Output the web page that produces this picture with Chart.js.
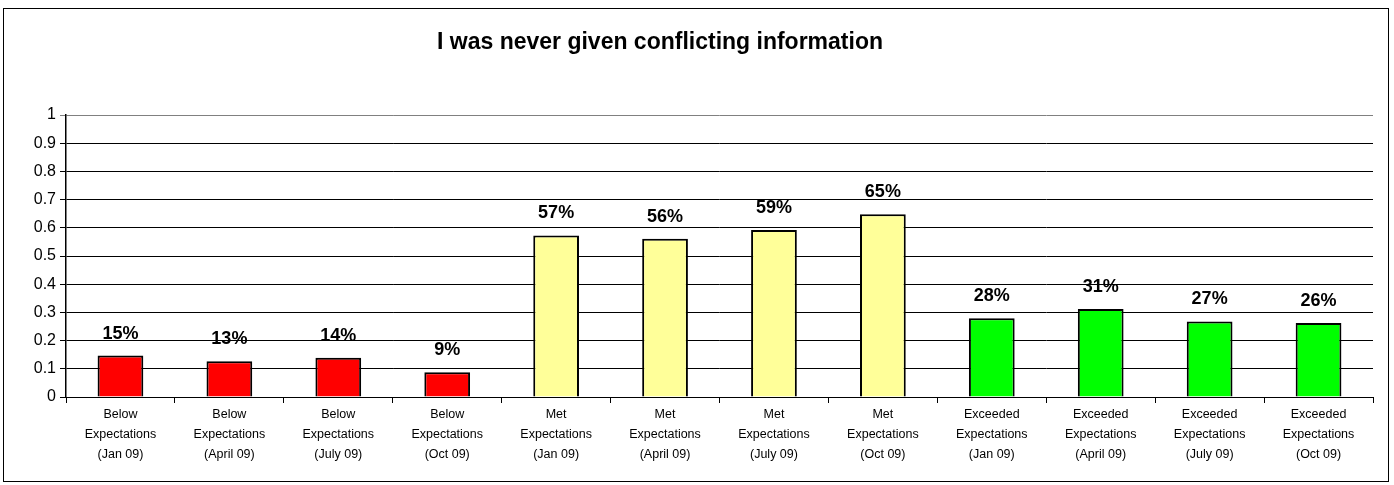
<!DOCTYPE html>
<html>
<head>
<meta charset="utf-8">
<script src="https://cdn.jsdelivr.net/npm/chart.js@4"></script>
<style>
  html, body { margin: 0; padding: 0; background: #fff; }
  #wrap { width: 1394px; height: 485px; }
</style>
</head>
<body>
<div id="wrap"><canvas id="myChart" width="1394" height="485"></canvas></div>
<script>
var chartTitle = "I was never given conflicting information";
var groups = ["Below", "Met", "Exceeded"];
var periods = ["(Jan 09)", "(April 09)", "(July 09)", "(Oct 09)"];
var values = [0.147, 0.127, 0.139, 0.088, 0.573, 0.561, 0.592, 0.648, 0.279, 0.312, 0.268, 0.262];
var groupColors = ["#FF0000", "#FFFF99", "#00FF00"];

var labels = [];
var barColors = [];
for (var g = 0; g < groups.length; g++) {
  for (var p = 0; p < periods.length; p++) {
    labels.push([groups[g], "Expectations", periods[p]]);
    barColors.push(groupColors[g]);
  }
}

// frame, title and the % labels over bars
var extras = {
  id: "extras",
  afterDraw: function(chart) {
    var c = chart.ctx;
    c.save();
    c.strokeStyle = "#000";
    c.lineWidth = 1;
    c.strokeRect(3.5, 8.5, 1385, 473);
    c.fillStyle = "#000";
    c.textAlign = "center";
    c.textBaseline = "middle";
    c.font = "bold 23px Arial, 'Liberation Sans', sans-serif";
    c.fillText(chartTitle, 660, 43);
    c.font = "bold 18px Arial, 'Liberation Sans', sans-serif";
    c.textBaseline = "alphabetic";
    var meta = chart.getDatasetMeta(0);
    meta.data.forEach(function(bar, i) {
      c.fillText(Math.round(values[i] * 100) + "%", bar.x, bar.y - 17);
    });
    c.restore();
  }
};

var myChart = new Chart(document.getElementById("myChart"), {
  type: "bar",
  data: {
    labels: labels,
    datasets: [{
      data: values,
      backgroundColor: barColors,
      borderColor: "#000",
      borderWidth: 2,
      barPercentage: 0.42,
      categoryPercentage: 1
    }]
  },
  options: {
    responsive: false,
    animation: false,
    layout: { padding: { left: 4, right: 21, top: 115, bottom: 0 } },
    plugins: {
      legend: { display: false },
      title: { display: false },
      tooltip: { enabled: false }
    },
    scales: {
      x: {
        grid: {
          offset: true,
          drawOnChartArea: false,
          drawTicks: true,
          tickLength: 6,
          color: "#000"
        },
        border: { color: "#000", width: 1 },
        ticks: {
          color: "#000",
          font: { family: "Arial, 'Liberation Sans', sans-serif", size: 12.5, lineHeight: 1.6 },
          maxRotation: 0,
          autoSkip: false,
          padding: 2
        },
        afterFit: function(scale) { scale.height = 88; }
      },
      y: {
        min: 0,
        max: 1,
        grid: {
          color: function(ctx) { return ctx.tick && ctx.tick.value === 1 ? "#808080" : "#000"; },
          lineWidth: 1,
          tickLength: 6
        },
        border: { color: "#000", width: 1.5 },
        ticks: {
          stepSize: 0.1,
          color: "#000",
          font: { family: "Arial, 'Liberation Sans', sans-serif", size: 16 },
          padding: 4,
          callback: function(v) { return String(+v.toFixed(1)); }
        },
        afterFit: function(scale) { scale.width = 62; }
      }
    }
  },
  plugins: [extras]
});
</script>
</body>
</html>
